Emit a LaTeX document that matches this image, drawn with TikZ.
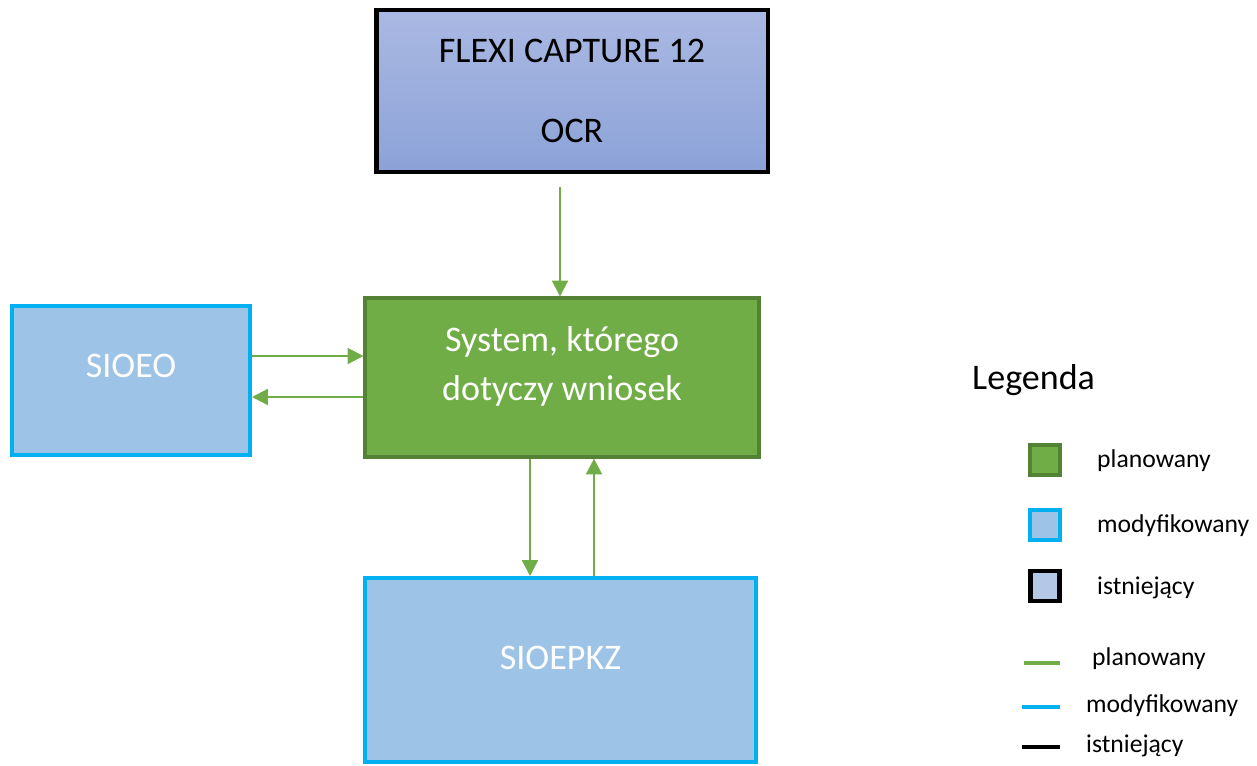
\documentclass[tikz,border=0pt]{standalone}
\usepackage{fontspec}
\setmainfont{Carlito}
\usetikzlibrary{arrows.meta}
\definecolor{plangreen}{HTML}{70AD47}
\definecolor{plandark}{HTML}{548235}
\definecolor{modblue}{HTML}{9DC3E6}
\definecolor{modedge}{HTML}{00B0F0}
\definecolor{oldblue}{HTML}{B4C7E7}
\definecolor{ocrtop}{HTML}{AAB9E3}
\definecolor{ocrbot}{HTML}{8CA2D7}

\begin{document}
\begin{tikzpicture}[
    x=0.02cm, y=-0.02cm,
    every node/.style={rectangle, text centered, font=\fontsize{20.5}{26}\selectfont},
    planbox/.style={fill=plangreen, draw=plandark, line width=1.8pt, text=white},
    modbox/.style={fill=modblue, draw=modedge, line width=2.3pt, text=white},
    oldbox/.style={draw=black, line width=2.8pt, top color=ocrtop, bottom color=ocrbot},
    flow/.style={draw=plangreen, line width=1.3pt, -{Triangle[length=9pt,width=9pt]}},
    legtext/.style={anchor=west, font=\fontsize{14.6}{17}\selectfont}
]
\useasboundingbox (0,0) rectangle (1257,765);

% systemy
\node[oldbox, minimum width=7.84cm, minimum height=3.24cm, align=center] (ocr) at (572,91)
    {FLEXI CAPTURE 12\\[20pt] OCR};
\node[planbox, minimum width=7.88cm, minimum height=3.18cm, align=center, text depth=16pt] (system) at (562,377.5)
    {System, którego\\[2pt] dotyczy wniosek};
\node[modbox, minimum width=4.76cm, minimum height=2.98cm, text depth=17pt] (sioeo) at (131,380.5) {SIOEO};
\node[modbox, minimum width=7.82cm, minimum height=3.68cm, text depth=13.6pt] (sioepkz) at (560.5,670) {SIOEPKZ};

% przeplywy
\draw[flow, shorten <=0.26cm] ([xshift=-0.24cm]ocr.south) -- ([xshift=-0.24cm]ocr.south |- system.north);
\draw[flow] ([yshift=0.49cm]sioeo.east) -- ([yshift=0.49cm]sioeo.east -| system.west);
\draw[flow] ([yshift=-0.33cm]sioeo.east -| system.west) -- ([yshift=-0.33cm]sioeo.east);
\draw[flow] ([xshift=-0.64cm]system.south) -- ([xshift=-0.64cm]system.south |- sioepkz.north);
\draw[flow] ([xshift=0.64cm]system.south |- sioepkz.north) -- ([xshift=0.64cm]system.south);

% legenda
\node[anchor=west] (legenda) at (966,380) {Legenda};
\node[planbox, minimum width=0.6cm, minimum height=0.6cm, line width=2.2pt] (lgplan) at (1045,460) {};
\node[modbox, minimum width=0.6cm, minimum height=0.6cm] (lgmod) at (1045,525) {};
\node[oldbox, top color=oldblue, bottom color=oldblue, minimum width=0.58cm, minimum height=0.6cm] (lgold) at (1045,586) {};
\node[legtext] (lgplantxt) at (1091,461) {planowany};
\node[legtext] (lgmodtxt) at (1091,526) {modyfikowany};
\node[legtext] (lgoldtxt) at (1091,588) {istniejący};

\coordinate (l1a) at (1024,663); \coordinate (l1b) at (1060,663);
\coordinate (l2a) at (1022,707); \coordinate (l2b) at (1060,707);
\coordinate (l3a) at (1022,747); \coordinate (l3b) at (1060,747);
\draw[plangreen, line width=2.4pt] (l1a) -- (l1b);
\draw[modedge, line width=2.4pt] (l2a) -- (l2b);
\draw[black, line width=2.4pt] (l3a) -- (l3b);
\node[legtext] (ln1) at (1086,659) {planowany};
\node[legtext] (ln2) at (1080,706) {modyfikowany};
\node[legtext] (ln3) at (1080,746) {istniejący};

\end{tikzpicture}
\end{document}
